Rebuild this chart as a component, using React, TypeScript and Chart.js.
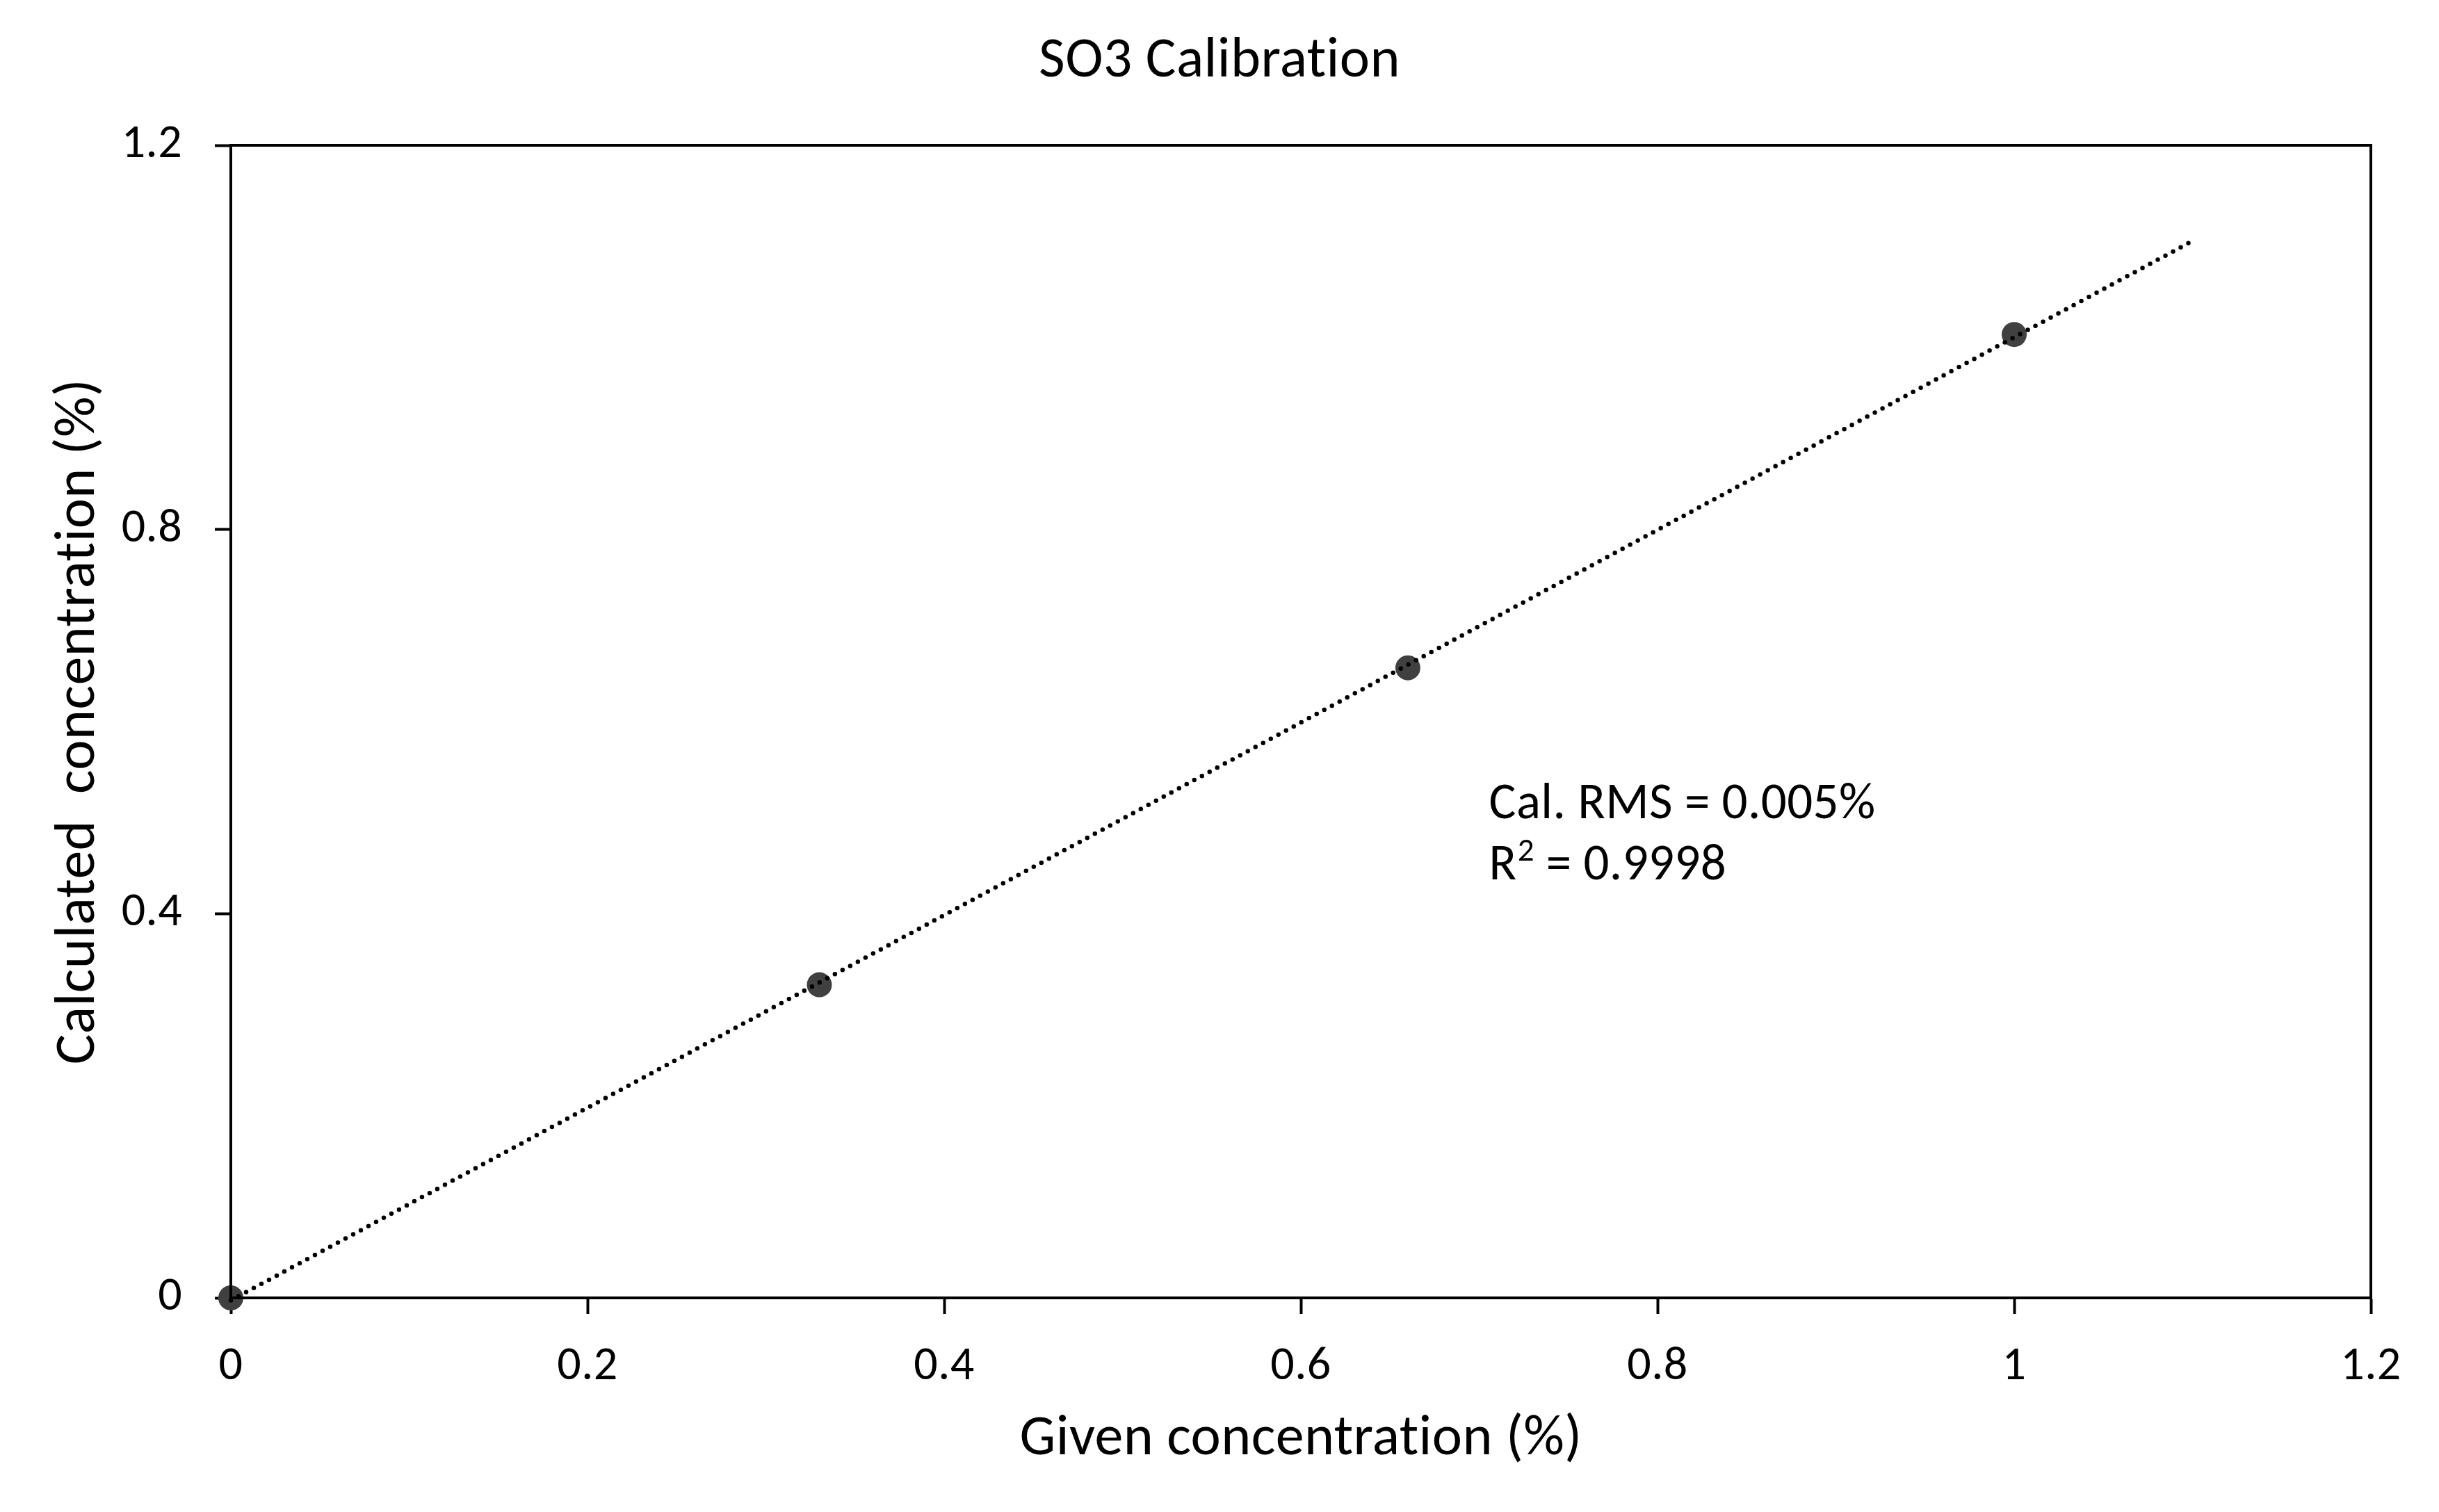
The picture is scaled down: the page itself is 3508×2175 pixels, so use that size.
import React, { useEffect, useRef } from 'react';
import { Chart, registerables } from 'chart.js';

Chart.register(...registerables);

// ---- data ----
const givenConc = [0, 0.33, 0.66, 1.0];
const calcConc = [0.0, 0.326, 0.656, 1.003];
const trendRangeX = [0, 1.1];
const xTickValues = [0, 0.2, 0.4, 0.6, 0.8, 1.0, 1.2];
const yTickValues = [0, 0.4, 0.8, 1.2];
const titleText = 'SO3 Calibration';
const xTitleText = 'Given concentration (%)';
const yTitleText = 'Calculated  concentration (%)';
const rmsLine = 'Cal. RMS = 0.005%';
const r2Parts = ['R', '2', ' = 0.9998'];
const annotationAnchor = [0.7055, 0.4994];

const FONT = 'Carlito, Lato, sans-serif';

function linearFit(xs: number[], ys: number[]) {
  const n = xs.length;
  const mx = xs.reduce((a, b) => a + b, 0) / n;
  const my = ys.reduce((a, b) => a + b, 0) / n;
  let sxx = 0;
  let sxy = 0;
  for (let i = 0; i < n; i++) {
    sxx += (xs[i] - mx) ** 2;
    sxy += (xs[i] - mx) * (ys[i] - my);
  }
  const slope = sxy / sxx;
  return { slope, intercept: my - slope * mx };
}

const fmt = (v: number) => String(Number(v.toFixed(1)));

export default function App() {
  const ref = useRef<HTMLCanvasElement | null>(null);

  useEffect(() => {
    if (!ref.current) return;
    const fit = linearFit(givenConc, calcConc);
    const trend = trendRangeX.map((x) => ({ x, y: fit.slope * x + fit.intercept }));

    const framePlugin = {
      id: 'frame',
      beforeDraw(chart: any) {
        const ctx = chart.ctx as any;
        try {
          ctx.letterSpacing = '0.4px';
        } catch (e) {}
      },
      afterDraw(chart: any) {
        const { ctx, chartArea, width } = chart;
        ctx.save();
        ctx.strokeStyle = '#000';
        ctx.lineWidth = 4;
        ctx.strokeRect(chartArea.left, chartArea.top, chartArea.right - chartArea.left, chartArea.bottom - chartArea.top);
        ctx.restore();

        // title, centred on the whole canvas
        ctx.save();
        ctx.fillStyle = '#000';
        ctx.textAlign = 'center';
        ctx.textBaseline = 'middle';
        ctx.font = `82px ${FONT}`;
        ctx.fillText(titleText, width / 2, 89);
        ctx.restore();

        // annotation
        const xs = chart.scales.x;
        const ys = chart.scales.y;
        const ax = xs.getPixelForValue(annotationAnchor[0]);
        const ay = ys.getPixelForValue(annotationAnchor[1]);
        ctx.save();
        ctx.fillStyle = '#000';
        ctx.textBaseline = 'alphabetic';
        ctx.textAlign = 'left';
        ctx.font = `73px ${FONT}`;
        ctx.fillText(rmsLine, ax, ay);
        const y2 = ay + 88;
        ctx.fillText(r2Parts[0], ax, y2);
        let cx = ax + ctx.measureText(r2Parts[0]).width;
        ctx.font = `47px ${FONT}`;
        ctx.fillText(r2Parts[1], cx + 1, y2 - 27);
        cx += ctx.measureText(r2Parts[1]).width + 1;
        ctx.font = `73px ${FONT}`;
        ctx.fillText(r2Parts[2], cx, y2);
        ctx.restore();
      },
    };

    const chart = new Chart(ref.current, {
      type: 'scatter',
      data: {
        datasets: [
          {
            label: 'Trend',
            data: trend,
            showLine: true,
            pointRadius: 0,
            borderColor: '#000',
            borderWidth: 6.5,
            borderDash: [0, 12.5],
            borderCapStyle: 'round',
            order: 0,
            clip: false as any,
          } as any,
          {
            label: 'SO3',
            data: givenConc.map((x, i) => ({ x, y: calcConc[i] })),
            pointRadius: 18,
            pointBackgroundColor: '#404040',
            pointBorderWidth: 0,
            backgroundColor: '#404040',
            borderColor: '#404040',
            showLine: false,
            order: 1,
            clip: false as any,
          } as any,
        ],
      },
      options: {
        animation: false,
        responsive: false,
        layout: { padding: { left: 0, right: 98, top: 209, bottom: 0 } },
        plugins: {
          legend: { display: false },
          tooltip: { enabled: false },
          title: { display: false },
        },
        scales: {
          x: {
            type: 'linear',
            min: 0,
            max: 1.2,
            afterBuildTicks: (s: any) => {
              s.ticks = xTickValues.map((v) => ({ value: v }));
            },
            afterFit: (s: any) => {
              s.height = 308;
            },
            ticks: {
              color: '#000',
              font: { family: FONT, size: 68 },
              padding: 36,
              callback: (v: any) => fmt(Number(v)),
              maxRotation: 0,
              autoSkip: false,
            },
            grid: {
              display: true,
              drawOnChartArea: false,
              drawTicks: true,
              tickLength: 23,
              tickWidth: 4,
              tickColor: '#000',
            },
            border: { display: true, color: '#000', width: 4 },
            title: {
              display: true,
              text: xTitleText,
              color: '#000',
              font: { family: FONT, size: 82 },
              padding: { top: 54, bottom: 54 },
            },
          },
          y: {
            type: 'linear',
            min: 0,
            max: 1.2,
            afterBuildTicks: (s: any) => {
              s.ticks = yTickValues.map((v) => ({ value: v }));
            },
            afterFit: (s: any) => {
              s.width = 332;
            },
            ticks: {
              color: '#000',
              font: { family: FONT, size: 68 },
              padding: 47,
              callback: (v: any) => fmt(Number(v)),
              autoSkip: false,
            },
            grid: {
              display: true,
              drawOnChartArea: false,
              drawTicks: true,
              tickLength: 23,
              tickWidth: 4,
              tickColor: '#000',
            },
            border: { display: true, color: '#000', width: 4 },
            title: {
              display: true,
              text: yTitleText,
              color: '#000',
              font: { family: FONT, size: 82 },
              padding: { top: 65, bottom: 65 },
            },
          },
        },
      } as any,
      plugins: [framePlugin],
    });
    return () => chart.destroy();
  }, []);

  return (
    <div style={{ position: 'fixed', left: 0, top: 0, width: 3508, height: 2175, background: '#fff' }}>
      <canvas ref={ref} width={3508} height={2175} style={{ display: 'block' }} />
    </div>
  );
}
